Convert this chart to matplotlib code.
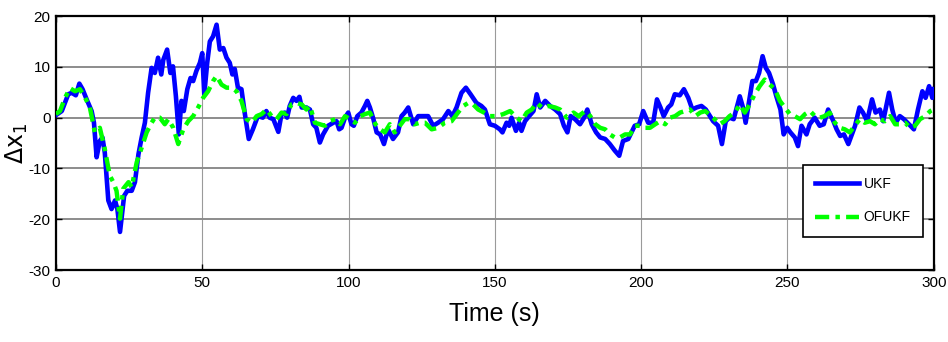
import matplotlib
matplotlib.use("Agg")
import matplotlib.pyplot as plt
from matplotlib.ticker import MultipleLocator

plt.rcParams['font.family'] = ['Liberation Sans Narrow', 'Liberation Sans', 'DejaVu Sans']
plt.rcParams['mathtext.fontset'] = 'dejavusans'
plt.rcParams['axes.unicode_minus'] = False

# UKF error
ukf_t = [0, 2, 4.2, 5.4, 6.8, 8, 9.1, 10.5, 12.2, 13, 13.9, 15, 15.9, 16.7, 17.9, 19, 20.2, 21,
         21.9, 23.3, 24.4, 25.9, 27, 28.2, 29.3, 30.4, 31.5, 32.7, 33.8, 34.9, 36, 36.7, 38, 39.1,
         40, 41, 42, 42.9, 43.7, 44.9, 46, 46.9, 48, 49.2, 50, 50.7, 51.7, 52.6, 53.7, 54.9, 56,
         57.2, 58.3, 59.4, 60.3, 61.1, 62.2, 63.4, 64.5, 65.9, 67.3, 69, 70.7, 71.9, 73, 74.3, 76,
         77.1, 78.2, 79, 79.9, 81.1, 82.2, 83.2, 84, 85.6, 86.8, 87.9, 89, 90.2, 91.3, 93, 94.8,
         95.9, 96.8, 97.6, 98.8, 99.9, 101, 101.8, 103, 104.4, 105.6, 106.4, 107.3, 108.5, 109.6,
         110.8, 112.1, 113.5, 115.2, 116.9, 118.1, 119.2, 120.4, 122.1, 123.8, 125.5, 127.2, 128.9,
         130.6, 132.3, 134.1, 135.5, 136.9, 138.6, 140.1, 141.7, 143.7, 145.4, 146.6, 148.3, 150,
         151.7, 152.6, 154, 154.9, 155.7, 157.2, 158.3, 159.1, 160.3, 161.7, 163.2, 164.3, 165.5,
         167.2, 168.9, 170.6, 172.3, 173.6, 174.8, 175.9, 177.4, 179.1, 180.5, 181.6, 183.1, 184.6,
         186, 187.7, 189.3, 191, 192.5, 193.8, 195.6, 196.7, 197.8, 199.3, 200.7, 202.4, 204.1,
         205.4, 206.6, 207.7, 209.2, 210.3, 211.5, 213.2, 214.6, 216.1, 217.5, 218.9, 220.6, 222.1,
         223.5, 224.6, 226.3, 227.6, 228.9, 230.2, 231.6, 232.5, 233.7, 234.8, 235.7, 236.9, 238,
         239.2, 240.3, 241.5, 242.6, 243.7, 245.1, 246.2, 247.6, 248.7, 249.9, 251, 252.5, 253.6,
         254.8, 256.5, 257.6, 259.3, 261, 262.4, 263.9, 265.7, 266.8, 268, 269.3, 270.8, 272, 273.1,
         274.6, 275.8, 277.2, 278.9, 280.1, 281.6, 282.7, 284.7, 285.8, 287, 288.4, 289.8, 291.5,
         293.2, 294.6, 296.1, 297.2, 298.4, 299.5, 300]
ukf_v = [0.5, 1.3, 4.6, 4.9, 4.4, 6.7, 5.6, 3.6, 1.3, -1, -7.8, -4.6, -3.9, -6.9, -16.3, -18, -16.3, -18,
         -22.5, -15.4, -14.4, -14.4, -12.7, -7.2, -3.9, -1, 4.9, 9.8, 8.8, 11.8, 8.5, 11.4, 13.4, 8.8,
         10.1, 4.2, -3.3, 3.3, 1.3, 5.6, 7.8, 7.2, 9.2, 10.8, 12.7, 4.6, 10.8, 15, 16, 18.3, 13.4,
         13.7, 11.8, 10.8, 8.5, 9.6, 5.9, 5.6, 1, -4.2, -2.3, 0.3, 0, 1.3, 0, -0.3, -2.8,
         0.7, 1, 0, 2.3, 3.9, 3.3, 4.1, 2, 2, 1.6, -1.3, -2, -4.9, -3.3, -1.6, -1,
         -0.7, -2.3, -2, 0, 1, -1.3, -1.6, 0.3, 1, 2.3, 3.3, 2, -0.3, -2.9,
         -3.3, -5.2, -2.3, -4.2, -2.9, 0.3, 1, 2, -1.3, 0.3, 0.3, 0.3, -1.6,
         -1, -0.3, 1.3, 0.3, 2, 4.9, 5.9, 4.6, 2.9, 2.3, 1.6, -1.3, -1.6,
         -2.3, -2.9, -1, -1.6, 0, -2.6, -1, -2.6, -0.7, 0.3, 1.3, 4.6, 2,
         3.3, 2.3, 1.6, 0.7, -1.6, -2.9, 0.3, -0.3, -1.3, 0, 1.6, -1.3, -2.9,
         -3.9, -4.2, -5.2, -6.5, -7.5, -4.6, -4.2, -2.9, -1.6, -1.3, 1.3, -1, -1,
         3.6, 2, 0.3, 2, 2.6, 4.6, 4.4, 5.6, 3.9, 1.6, 2, 2.3, 1.6,
         0.3, -0.7, -1.6, -5.2, -0.7, 0, -0.3, 1.6, 4.2, 2, -1, 3.3, 7.2,
         7.2, 8.8, 12.1, 9.8, 8.8, 6.5, 4.2, 1.6, -3.3, -2, -2.9, -3.9, -5.6,
         -1.6, -3.3, -1.3, 0, -1.6, -1.3, 1.6, -0.7, -2.3, -3.6, -3.3, -5.2, -3.3, -1.6,
         2, 1, -0.7, 3.6, 1, 1.6, -0.7, 4.9, 1.6, -1, 0.3, -0.3, -1.3,
         -2.3, 1.6, 5.2, 3.9, 6.2, 3.9, 5.6]

# OFUKF error
ofukf_t = [0, 1.4, 3.1, 4.8, 6.5, 8.2, 10, 11.6, 13.3, 15, 16.7, 18.4, 19.6, 20.7, 21.9, 23, 24.8,
           25.9, 27.6, 29.3, 31, 32.7, 33.8, 35.5, 37.2, 38.4, 40.1, 41.8, 43.5, 45.2, 46.9, 48.6,
           50.3, 52, 53.7, 54.9, 56.6, 58.3, 60, 61.7, 63.4, 65.2, 66.9, 68.6, 70.3, 72, 73.7, 75.4,
           77.1, 78.8, 80.5, 82.2, 84, 85.6, 86.8, 88.5, 90.2, 91.9, 93.6, 95.4, 97.1, 98.8, 100.5,
           102.2, 104, 105.6, 107.3, 109.2, 110.8, 112.4, 114.1, 115.8, 117.5, 119.2, 120.9, 122.6,
           124.4, 126.1, 128.4, 130.6, 132.9, 135.2, 137.4, 139.2, 140.9, 142.6, 144.3, 146.3, 148.3,
           150.6, 152.9, 155.2, 157.5, 159.1, 160.9, 162.6, 164.3, 166.1, 168.4, 170.6, 172.3, 174.6,
           176.9, 178.6, 180.9, 182.6, 184.3, 186, 187.7, 189.3, 191, 192.7, 194.5, 196.2, 197.9,
           199.6, 201.3, 203, 204.8, 206.5, 208.2, 209.9, 211.6, 213.3, 215, 216.7, 218.5, 220.2,
           221.9, 223.6, 225.1, 226.8, 228.5, 230.2, 232, 233.7, 235.4, 237.1, 238.8, 240.5, 242.2,
           244, 245.7, 247.4, 249.1, 250.8, 252.5, 254.3, 256, 257.7, 259.4, 261.1, 262.7, 264.4,
           266.2, 267.9, 269.6, 271.3, 273, 274.7, 276.4, 278.2, 279.9, 281.6, 283.3, 285.1, 286.8,
           288.5, 290.2, 291.9, 293.6, 295.3, 297.1, 298.8, 300]
ofukf_v = [0.7, 1.3, 3.9, 5.8, 5.2, 5.6, 3.9, 2, -2.9, -2, -6.2, -11.4, -12.7, -14.4, -19.9, -14, -12.7,
           -13.7, -8.8, -5.9, -2.9, -1, 0, 0, -1.3, -0.3, -2, -5.2, -2.3, -0.7, 0.3, 2,
           3.9, 5.2, 7.2, 8.2, 6.5, 5.9, 5.9, 5.2, 3.3, -0.3, -1, 0.3, 0.7, 1.6, 0.3, -0.3,
           1, 0.7, 2.6, 2.9, 2.6, 1.6, 2.3, -1, -1.3, -1.6, -0.7, -0.3, -1.3, 0.3, -0.3,
           -1, 0.3, 0.7, 1, -1.3, -2.3, -2.9, -1.3, -2.9, -1.6, -0.3, -0.3, -1.3,
           -1, -1, -2.3, -2, -1, -0.7, 1, 2.3, 2.9, 2.6, 1.6, 1, 0.3,
           0.3, 0.7, 1.3, 0, -0.7, 1, 1.6, 2.9, 2, 2.3, 2, 1.6, 0,
           1, 0.3, 1.3, 0.3, -1.3, -2, -2.3, -3.3, -3.9, -3.9, -3.3, -3.3, -1.6,
           -1.6, -2, -2, -1.3, -0.7, -1.3, 0, 0.3, 1, 1.3, 1.6, 0.3, 1,
           1.3, 0.5, -0.3, -1.3, -0.7, 0.3, 1, 2.6, 1, 2.6, 4.6, 6.2, 7.5,
           6.5, 5.6, 3.3, 2, 0.7, 0.3, -0.3, 0.7, 1.3, 0.3, 0, 0.3, 1,
           -1, -2, -2.3, -2.9, -1.6, -0.3, -1, -0.7, -1.3, -0.3, -0.7, 0.3, -1.3,
           -1.3, -1, -2, -1.6, -0.3, 0.3, 1.3, 1.6]

fig = plt.figure(figsize=(9.48, 3.42), dpi=100)
ax = fig.add_axes([0.059, 0.2105, 0.926, 0.7425])

ax.plot(ukf_t, ukf_v, color='#0000ff', lw=3.3, label='UKF', zorder=3)
ax.plot(ofukf_t, ofukf_v, color='#00ff00', lw=3.2, linestyle=(0, (3.2, 1.4, 1.0, 1.4)),
        label='OFUKF', zorder=4)

ax.set_xlim(0, 300)
ax.set_ylim(-30, 20)
ax.xaxis.set_major_locator(MultipleLocator(50))
ax.yaxis.set_major_locator(MultipleLocator(10))

ax.grid(True, axis='y', color='#8c8c8c', lw=1.4, zorder=0)
ax.grid(True, axis='x', color='#9a9a9a', lw=0.8, zorder=0)

ax.tick_params(direction='in', top=True, right=True, length=4, width=1, labelsize=11, pad=4)
for s in ax.spines.values():
    s.set_linewidth(1.6)

ax.set_xlabel('Time (s)', fontsize=18, labelpad=9)
ax.set_ylabel(r'$\Delta \mathrm{x}_1$', fontsize=17)
ax.yaxis.set_label_coords(-0.03, 0.5)

leg = ax.legend(loc='lower right', bbox_to_anchor=(0.988, 0.13),
                fontsize=10, handlelength=3.2, handletextpad=0.3, borderpad=0.9,
                labelspacing=1.4, fancybox=False, framealpha=1, borderaxespad=0)
leg.get_frame().set_edgecolor('black')
leg.get_frame().set_linewidth(1.2)

fig.savefig('out.png', dpi=100)
